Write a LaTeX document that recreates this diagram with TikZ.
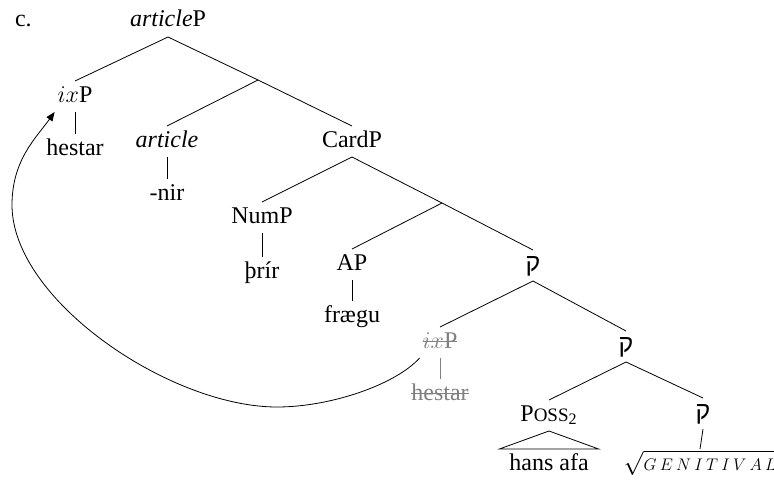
\documentclass[tikz,border=0pt]{standalone}
\usepackage{fontspec}
\setmainfont{Liberation Serif}
\newfontfamily\hebfont[Script=Hebrew]{Liberation Sans}
\usetikzlibrary{arrows.meta,calc}
\newsavebox\strkbox
\newcommand\strk[1]{\sbox\strkbox{#1}\usebox\strkbox\llap{\rule[3pt]{\wd\strkbox}{0.6pt}}}
\newcommand\qof{{\hebfont\fontsize{12.5}{14}\selectfont ק}}
\begin{document}
\begin{tikzpicture}[x=0.5pt,y=-0.5pt,
  font=\fontsize{12}{14}\selectfont,
  tn/.style={inner sep=0pt,outer sep=1.5pt,text height=9pt,text depth=3.5pt,anchor=base},
  every path/.style={line width=0.4pt}]
\useasboundingbox (0,0) rectangle (774,481);
\node[tn,anchor=base west] (lbl) at (12,27) {c.};
\node[tn] (artP) at (168,27) {\textit{article}P};
\node[tn] (ix) at (75,102) {$ix$P};
\node[tn] (hes) at (75,155) {hestar};
\coordinate (b1) at (258,80);
\node[tn] (art) at (167,147) {\textit{article}};
\node[tn] (nir) at (167,200) {-nir};
\node[tn] (card) at (352,147) {CardP};
\coordinate (b2) at (442,203);
\node[tn] (num) at (262,223) {NumP};
\node[tn] (thr) at (262,278) {þrír};
\node[tn] (ap) at (352,270) {AP};
\node[tn] (fr) at (352,322) {frægu};
\node[tn] (q1) at (533,271) {\qof};
\node[tn,gray] (six) at (440,348) {\strk{$ix$P}};
\node[tn,gray] (shes) at (440,400) {\strk{hestar}};
\node[tn] (q2) at (626,352) {\qof};
\node[tn] (poss) at (549,421) {P{\fontsize{9.5}{10}\selectfont OSS}\textsubscript{2}};
\node[tn] (hans) at (549,470) {hans afa};
\node[tn] (q3) at (703,419) {\qof};
\node[tn] (gen) at (700,470) {$\sqrt{\scalebox{0.7}{$G\kern2.3pt E\kern2.3pt N\kern2.3pt I\kern2.3pt T\kern2.3pt I\kern2.3pt V\kern2.3pt A\kern2.3pt L$}}$};
\draw (artP.south) -- (ix.north);
\draw (artP.south) -- (b1);
\draw (b1) -- (art.north);
\draw (b1) -- (card.north);
\draw (ix.south) -- (hes.north);
\draw (art.south) -- (nir.north);
\draw (card.south) -- (num.north);
\draw (card.south) -- (b2);
\draw (num.south) -- (thr.north);
\draw (b2) -- (ap.north);
\draw (b2) -- (q1.north);
\draw (ap.south) -- (fr.north);
\draw (q1.south) -- (six.north);
\draw (q1.south) -- (q2.north);
\draw[gray] (six.south) -- (shes.north);
\draw (q2.south) -- (poss.north);
\draw (q2.south) -- (q3.north);
\draw (poss.south) -- ($(hans.north west)+(-7,0)$) -- ($(hans.north east)+(7,0)$) -- cycle;
\draw (q3.south) -- (gen.north);
\draw[-{Triangle[length=4.5pt,width=3.6pt]}] (six.south west) .. controls (395,385) and (330,407) .. (277,407)
  .. controls (170,407) and (12,300) .. (12,205)
  .. controls (12,160) and (36,138) .. (ix.south west);
\end{tikzpicture}
\end{document}
